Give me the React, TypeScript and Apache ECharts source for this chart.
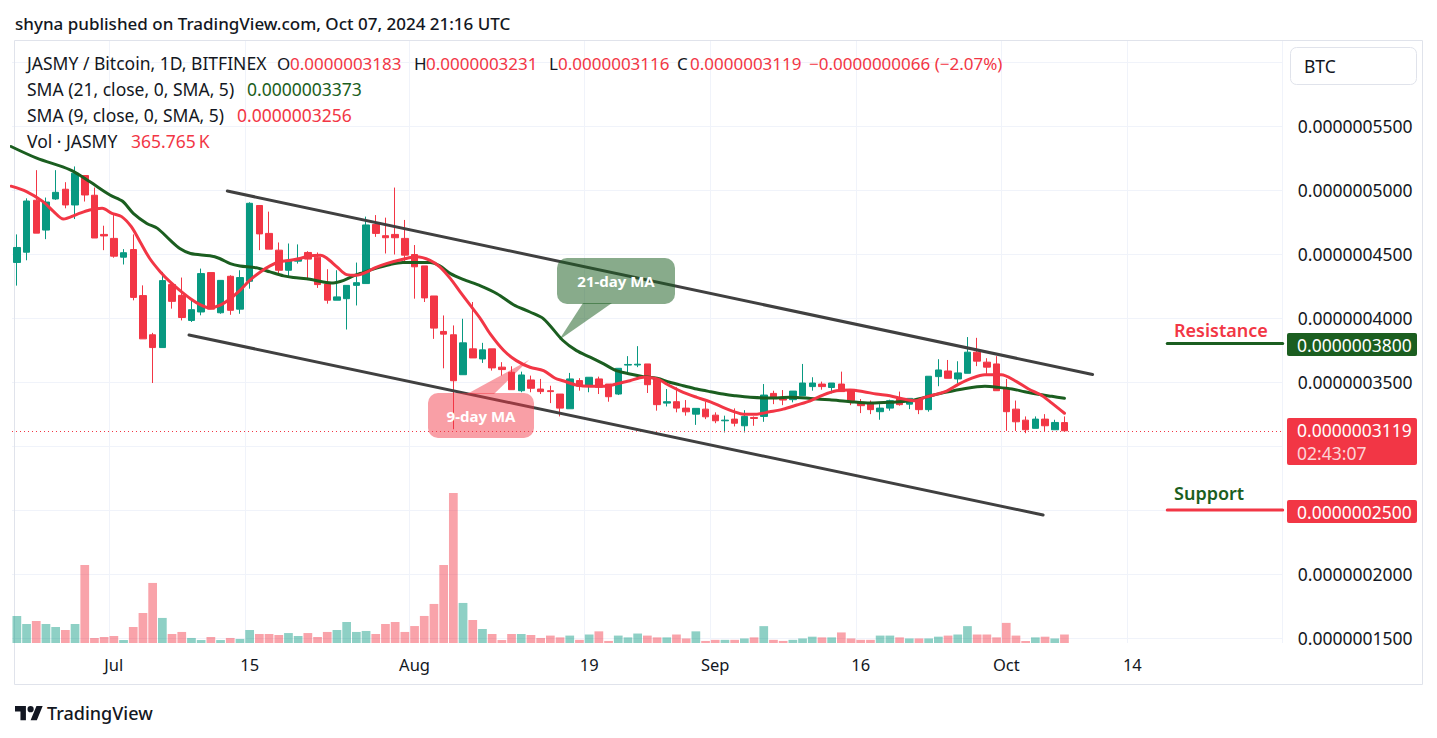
import React, { useEffect, useRef } from "react";
import * as echarts from "echarts";

// ---------- DATA (prices in 1e-10 BTC) ----------
const START_DATE = "2024-06-21";
const TOTAL_DAYS = 131; // visible time range incl. empty space on the right

// [open, close, low, high]
const OHLC: number[][] = [
  [4434, 4551, 4253, 4653], [4514, 4914, 4451, 4935], [4920, 4663, 4663, 5155], [4687, 4906, 4616, 4941],
  [4930, 4982, 4923, 5155], [5006, 4883, 4857, 5061], [4883, 5131, 4773, 5184], [5113, 4961, 4910, 5113],
  [4959, 4625, 4625, 5019], [4653, 4641, 4530, 4721], [4622, 4483, 4471, 4804], [4475, 4510, 4418, 4538],
  [4535, 4161, 4138, 4653], [4175, 3837, 3837, 4255], [3869, 3769, 3492, 3884], [3769, 4292, 3769, 4360],
  [4261, 4130, 4073, 4261], [4177, 4004, 3981, 4316], [3981, 4065, 3969, 4138], [4047, 4347, 4021, 4386],
  [4355, 4069, 4069, 4355], [4041, 4294, 4033, 4294], [4326, 4060, 4025, 4334], [4069, 4316, 4033, 4373],
  [4287, 4896, 4229, 4904], [4879, 4657, 4530, 4879], [4661, 4538, 4538, 4831], [4530, 4373, 4329, 4590],
  [4373, 4451, 4329, 4582], [4444, 4465, 4425, 4575], [4512, 4460, 4308, 4522], [4475, 4261, 4235, 4512],
  [4266, 4139, 4112, 4381], [4139, 4165, 4139, 4373], [4151, 4255, 3910, 4255], [4255, 4276, 4098, 4433],
  [4269, 4727, 4269, 4792], [4731, 4661, 4634, 4804], [4643, 4627, 4504, 4784], [4653, 4627, 4496, 5019],
  [4622, 4491, 4425, 4766], [4496, 4400, 4151, 4570], [4407, 4157, 4125, 4407], [4172, 3921, 3837, 4172],
  [3895, 3874, 3607, 4020], [3869, 3510, 3131, 3942], [3557, 3806, 3557, 3994], [3759, 3688, 3688, 4125],
  [3680, 3751, 3649, 3806], [3759, 3610, 3589, 3759], [3616, 3597, 3550, 3655], [3576, 3440, 3440, 3623],
  [3432, 3555, 3420, 3581], [3516, 3451, 3420, 3550], [3445, 3425, 3406, 3524], [3432, 3425, 3335, 3471],
  [3406, 3296, 3231, 3406], [3291, 3524, 3291, 3571], [3511, 3467, 3432, 3530], [3467, 3537, 3420, 3537],
  [3524, 3459, 3406, 3542], [3484, 3385, 3346, 3484], [3406, 3607, 3398, 3607], [3632, 3637, 3557, 3702],
  [3633, 3639, 3616, 3780], [3641, 3479, 3414, 3641], [3524, 3323, 3276, 3524], [3335, 3346, 3309, 3445],
  [3346, 3296, 3263, 3459], [3296, 3267, 3237, 3359], [3249, 3294, 3165, 3294], [3288, 3228, 3210, 3346],
  [3241, 3197, 3178, 3263], [3197, 3202, 3106, 3237], [3210, 3178, 3153, 3294], [3158, 3231, 3106, 3280],
  [3223, 3215, 3158, 3231], [3231, 3398, 3189, 3484], [3411, 3381, 3327, 3432], [3367, 3359, 3319, 3437],
  [3362, 3429, 3341, 3429], [3393, 3492, 3393, 3641], [3464, 3492, 3432, 3537], [3484, 3464, 3440, 3503],
  [3457, 3492, 3411, 3492], [3484, 3425, 3425, 3581], [3432, 3355, 3319, 3432], [3335, 3315, 3257, 3367],
  [3327, 3284, 3249, 3355], [3268, 3296, 3205, 3327], [3296, 3354, 3276, 3362], [3372, 3323, 3315, 3425],
  [3327, 3372, 3288, 3372], [3362, 3284, 3249, 3362], [3284, 3545, 3268, 3545], [3542, 3594, 3467, 3678],
  [3586, 3529, 3529, 3672], [3524, 3571, 3492, 3662], [3568, 3733, 3568, 3851], [3733, 3663, 3624, 3845],
  [3655, 3616, 3563, 3686], [3641, 3432, 3432, 3702], [3451, 3268, 3118, 3524], [3288, 3189, 3118, 3355],
  [3202, 3127, 3100, 3231], [3138, 3210, 3138, 3231], [3210, 3158, 3111, 3249], [3127, 3184, 3127, 3205],
  [3183, 3119, 3116, 3231],
];

// volume in thousands of JASMY
const VOLUME_K: number[] = [
  1165, 820, 948, 820, 689, 561, 820, 3362, 217, 259, 302, 128, 689, 1292, 2588, 1080,
  387, 476, 217, 128, 259, 128, 217, 174, 561, 387, 387, 344, 429, 302, 429, 259,
  476, 561, 905, 476, 519, 387, 820, 905, 476, 731, 1165, 1683, 3362, 6464, 1726, 990,
  604, 387, 128, 387, 387, 344, 217, 319, 242, 319, 136, 366, 502, 89, 319, 242,
  408, 319, 242, 242, 366, 196, 502, 89, 136, 136, 136, 196, 242, 727, 136, 89,
  136, 196, 272, 242, 242, 455, 196, 136, 136, 319, 319, 242, 196, 196, 196, 272,
  319, 366, 727, 366, 366, 242, 867, 319, 89, 242, 272, 196, 366,
];

// SMA lines: [day index, price]
const SMA21_POINTS: number[][] = [
  [-0.6, 5340], [2.05, 5249], [5.5, 5157], [7.5, 5066], [9.6, 4961], [10.9, 4912], [12.0, 4818], [13.4, 4739],
  [14.5, 4700], [15.8, 4608], [16.8, 4543], [17.9, 4504], [19.9, 4486], [20.9, 4465], [22.0, 4425], [23.0, 4407],
  [24.7, 4392], [26.1, 4360], [27.5, 4329], [28.5, 4316], [30.2, 4302], [31.6, 4282], [32.6, 4274], [33.7, 4294],
  [34.7, 4329], [35.7, 4355], [36.9, 4386], [38.5, 4418], [39.8, 4433], [42.6, 4433], [43.6, 4407], [44.7, 4347],
  [46.0, 4302], [47.8, 4251], [49.5, 4190], [51.2, 4104], [52.9, 4047], [54.3, 3994], [56.3, 3824], [57.7, 3745],
  [59.1, 3694], [60.5, 3641], [61.8, 3589], [63.2, 3563], [64.6, 3542], [66.0, 3529], [67.3, 3498], [68.7, 3471],
  [70.1, 3445], [71.5, 3424], [72.8, 3406], [74.0, 3393], [75.6, 3380], [77.6, 3375], [79.7, 3380], [81.8, 3372],
  [83.8, 3361], [85.9, 3346], [88.0, 3335], [90.0, 3341], [92.1, 3353], [93.6, 3380], [95.7, 3419], [97.8, 3450],
  [99.8, 3466], [101.2, 3458], [102.6, 3445], [103.9, 3424], [105.3, 3404], [106.7, 3388], [108, 3373],
];
const SMA9_POINTS: number[][] = [
  [-0.6, 5030], [1.0, 4988], [2.7, 4909], [3.8, 4831], [4.8, 4773], [6.2, 4810], [7.5, 4844], [8.8, 4857],
  [9.8, 4818], [10.8, 4792], [11.8, 4713], [12.7, 4596], [13.7, 4465], [14.8, 4360], [15.8, 4282], [16.8, 4216],
  [17.9, 4151], [18.9, 4104], [19.9, 4078], [20.9, 4098], [22.0, 4151], [23.0, 4216], [24.0, 4294], [25.1, 4360],
  [26.1, 4407], [27.1, 4439], [28.2, 4451], [29.2, 4465], [30.2, 4486], [31.3, 4491], [31.9, 4470], [33.0, 4400],
  [34.0, 4339], [35.0, 4334], [36.1, 4360], [36.9, 4392], [38.1, 4425], [39.8, 4459], [41.2, 4478], [42.6, 4451],
  [43.6, 4400], [44.7, 4308], [45.7, 4204], [46.7, 4104], [47.8, 3994], [48.8, 3876], [50.2, 3746], [51.5, 3667],
  [52.9, 3615], [54.3, 3589], [55.5, 3529], [56.3, 3510], [57.7, 3476], [59.1, 3466], [60.5, 3466], [61.8, 3484],
  [63.2, 3510], [64.6, 3537], [66.0, 3524], [67.3, 3471], [68.7, 3419], [70.1, 3380], [71.5, 3345], [72.8, 3302],
  [74.0, 3267], [74.9, 3249], [76.3, 3249], [77.6, 3267], [79.0, 3288], [80.4, 3320], [81.8, 3353], [83.1, 3398],
  [84.5, 3432], [85.9, 3437], [87.3, 3424], [88.6, 3406], [90.0, 3393], [91.4, 3367], [92.6, 3353], [93.6, 3380],
  [95.7, 3424], [97.1, 3484], [98.4, 3529], [99.8, 3557], [101.5, 3557], [102.9, 3510], [104.3, 3445], [105.7, 3393],
  [106.7, 3335], [108, 3256],
];

const CHANNEL_UPPER: number[][] = [[21.7, 4992], [110.9, 3559]];
const CHANNEL_LOWER: number[][] = [[17.75, 3867], [105.8, 2461]];
const RESISTANCE = 3800;
const SUPPORT = 2500;
const LEVEL_START = 118.6;
const LAST_PRICE = 3119;

const TICK_LABELS: Record<string, string> = {
  "2024-07-01": "Jul", "2024-07-15": "15", "2024-08-01": "Aug", "2024-08-19": "19",
  "2024-09-01": "Sep", "2024-09-16": "16", "2024-10-01": "Oct", "2024-10-14": "14",
};
const Y_MIN = 1500;
const Y_MAX = 6000;
const Y_STEP = 500;
// axis labels hidden behind the price boxes / BTC button
const Y_COVERED = [6000, 3000, 2500];

const HEADER_TITLE = "shyna published on TradingView.com, Oct 07, 2024 21:16 UTC";
const SYMBOL_LINE = "JASMY / Bitcoin, 1D, BITFINEX";
const OHLC_TEXT = ["0.0000003183", "0.0000003231", "0.0000003116", "0.0000003119"];
const CHANGE_TEXT = "\u22120.0000000066 (\u22122.07%)";
const SMA21_LABEL = "SMA (21, close, 0, SMA, 5)";
const SMA9_LABEL = "SMA (9, close, 0, SMA, 5)";
const SMA21_VALUE = "0.0000003373";
const SMA9_VALUE = "0.0000003256";
const VOL_LABEL = "Vol \u00b7 JASMY";
const VOL_VALUE = "365.765\u2009K";
const COUNTDOWN = "02:43:07";

// ---------- STYLE ----------
const UP = "#089981";
const DOWN = "#f23645";
const MA21 = "#1b5e20";
const TEXT = "#131722";
const GRID = "#f0f3fa";
const FONT = '"Noto Sans", "DejaVu Sans", sans-serif';
const LEG = 17.5;
const LEG1 = 17;
const AXF = 17.5;

const DAY_MS = 86400000;
const DATES: string[] = (() => {
  const s = Date.parse(START_DATE + "T00:00:00Z");
  const out: string[] = [];
  for (let i = 0; i < TOTAL_DAYS; i++) out.push(new Date(s + i * DAY_MS).toISOString().slice(0, 10));
  return out;
})();

const fmt = (v: number) => (v / 1e10).toFixed(10);

const GRID_LEFT = 12;
const GRID_W = 1270.7;
const PRICE_TOP = 62;
const PRICE_BOTTOM = 638;
const VOL_TOP = 41;
const VOL_BOTTOM = 643;
const VOL_MAX_PX = 150;

function txt(text: string, x: number, y: number, fill: string, size: number, weight = "normal", align = "left") {
  return {
    type: "text",
    x,
    y,
    z: 100,
    style: { text, fill, font: `${weight} ${size}px ${FONT}`, textAlign: align, textVerticalAlign: "middle" },
  };
}

export default function App() {
  const ref = useRef<HTMLDivElement>(null);

  useEffect(() => {
    if (!ref.current) return;
    echarts.graphic.registerShape(
      "tvlogo",
      echarts.graphic.extendPath("M14 22H7V11H0V4h14v18zM28 22h-8l7.5-18h8L28 22zM24 8a4 4 0 1 1-8 0a4 4 0 1 1 8 0z", {})
    );
    const chart = echarts.init(ref.current, null, { renderer: "svg" });

    const maxVol = Math.max(...VOLUME_K);
    const volAxisMax = (maxVol * (VOL_BOTTOM - VOL_TOP)) / VOL_MAX_PX;

    const volData = VOLUME_K.map((v, i) => ({
      value: v,
      itemStyle: { color: OHLC[i][1] >= OHLC[i][0] ? "rgba(8,153,129,0.46)" : "rgba(242,54,69,0.46)" },
    }));

    const lineSeries = (data: number[][], color: string, width: number, smooth: number | boolean, z: number) => ({
      type: "line",
      xAxisIndex: 1,
      yAxisIndex: 0,
      data,
      smooth,
      showSymbol: false,
      symbol: "none",
      silent: true,
      z,
      lineStyle: { color, width, cap: "round" },
    });

    const isTick = (i: number) => TICK_LABELS[DATES[i]] !== undefined;

    const graphics: any[] = [
      // frame
      { type: "rect", z: 1, shape: { x: 14.5, y: 40.5, width: 1408, height: 644 }, style: { fill: "none", stroke: "#e0e3eb", lineWidth: 1 } },
      txt(HEADER_TITLE, 15, 23, TEXT, 17, "500"),
      // legend line 1
      txt(SYMBOL_LINE, 27, 63, TEXT, LEG),
      txt("O", 277, 63, TEXT, LEG1), txt(OHLC_TEXT[0], 290, 63, DOWN, LEG1),
      txt("H", 414, 63, TEXT, LEG1), txt(OHLC_TEXT[1], 426, 63, DOWN, LEG1),
      txt("L", 549, 63, TEXT, LEG1), txt(OHLC_TEXT[2], 558, 63, DOWN, LEG1),
      txt("C", 677, 63, TEXT, LEG1), txt(OHLC_TEXT[3], 690, 63, DOWN, LEG1),
      txt(CHANGE_TEXT, 809, 63, DOWN, LEG1),
      txt(SMA21_LABEL, 27, 89, TEXT, LEG), txt(SMA21_VALUE, 247, 89, MA21, LEG),
      txt(SMA9_LABEL, 27, 115, TEXT, LEG), txt(SMA9_VALUE, 237, 115, DOWN, LEG),
      txt(VOL_LABEL, 27, 141, TEXT, LEG), txt(VOL_VALUE, 131, 141, DOWN, LEG),
      // BTC button
      { type: "rect", z: 100, shape: { x: 1290.5, y: 47.5, width: 126, height: 37, r: 6 }, style: { fill: "#fff", stroke: "#e0e3eb", lineWidth: 1 } },
      txt("BTC", 1304, 66, TEXT, AXF),
      // price boxes
      { type: "rect", z: 100, shape: { x: 1287, y: 333, width: 130, height: 23, r: 2 }, style: { fill: MA21 } },
      txt(fmt(RESISTANCE), 1297, 344.5, "#ffffff", AXF),
      { type: "rect", z: 100, shape: { x: 1287, y: 418, width: 130, height: 47, r: 2 }, style: { fill: DOWN } },
      txt(fmt(LAST_PRICE), 1297, 430, "#ffffff", AXF),
      txt(COUNTDOWN, 1297, 453, "rgba(255,255,255,0.8)", AXF),
      { type: "rect", z: 100, shape: { x: 1287, y: 500, width: 130, height: 23, r: 2 }, style: { fill: DOWN } },
      txt(fmt(SUPPORT), 1297, 511.5, "#ffffff", AXF),
      // level texts
      txt("Resistance", 1174, 330, DOWN, 18, "600"),
      txt("Support", 1174, 493, MA21, 18, "600"),
      // 21-day MA callout
      { type: "polygon", z: 90, shape: { points: [[583, 303], [612, 303], [559, 340]] }, style: { fill: "rgba(27,94,32,0.52)" } },
      { type: "rect", z: 90, shape: { x: 557, y: 258, width: 118, height: 46, r: 10 }, style: { fill: "rgba(27,94,32,0.52)" } },
      txt("21-day MA", 616, 281, "#ffffff", 15, "bold", "center"),
      // 9-day MA callout
      { type: "polygon", z: 90, shape: { points: [[467, 394], [494, 394], [529, 360]] }, style: { fill: "rgba(242,54,69,0.48)" } },
      { type: "rect", z: 90, shape: { x: 428, y: 393, width: 106, height: 45, r: 10 }, style: { fill: "rgba(242,54,69,0.48)" } },
      txt("9-day MA", 481, 415.5, "#ffffff", 15, "bold", "center"),
      // TradingView logo
      { type: "tvlogo", z: 100, x: 15, y: 703, scaleX: 0.78, scaleY: 0.78, style: { fill: TEXT } },
      txt("TradingView", 47, 713, TEXT, 18, "500"),
    ];

    const option: any = {
      animation: false,
      backgroundColor: "#ffffff",
      grid: [
        { left: GRID_LEFT, top: PRICE_TOP, width: GRID_W, height: PRICE_BOTTOM - PRICE_TOP },
        { left: GRID_LEFT, top: VOL_TOP, width: GRID_W, height: VOL_BOTTOM - VOL_TOP },
      ],
      xAxis: [
        {
          type: "category", gridIndex: 0, data: DATES, boundaryGap: true,
          axisLine: { show: false }, axisTick: { show: false }, axisLabel: { show: false }, splitLine: { show: false },
        },
        { type: "value", gridIndex: 0, min: -0.5, max: TOTAL_DAYS - 0.5, show: false, splitLine: { show: false } },
        {
          type: "category", gridIndex: 1, data: DATES, boundaryGap: true,
          axisLine: { show: false }, axisTick: { show: false },
          axisLabel: {
            interval: (i: number) => isTick(i),
            formatter: (v: string) => TICK_LABELS[v] || "",
            color: TEXT, fontSize: 16.5, fontFamily: FONT, margin: 13,
          },
          splitLine: { show: true, interval: (i: number) => isTick(i), lineStyle: { color: GRID, width: 1 } },
        },
      ],
      yAxis: [
        {
          type: "value", gridIndex: 0, position: "right", min: Y_MIN, max: Y_MAX, interval: Y_STEP,
          axisLine: { show: false }, axisTick: { show: false },
          axisLabel: {
            formatter: (v: number) => (Y_COVERED.indexOf(Math.round(v)) >= 0 ? "" : fmt(v)),
            color: TEXT, fontSize: AXF, fontFamily: FONT, margin: 15, align: "left",
          },
          splitLine: { show: true, lineStyle: { color: GRID, width: 1 } },
        },
        { type: "value", gridIndex: 1, min: 0, max: volAxisMax, show: false, splitLine: { show: false } },
      ],
      series: [
        {
          type: "bar", xAxisIndex: 2, yAxisIndex: 1, data: volData, barWidth: "90%", z: 1, silent: true,
        },
        {
          type: "candlestick", xAxisIndex: 0, yAxisIndex: 0, data: OHLC.map((d) => [d[0], d[1], d[2], d[3]]),
          barWidth: 7, z: 3, silent: true,
          itemStyle: { color: UP, color0: DOWN, borderColor: UP, borderColor0: DOWN, borderWidth: 1 },
          markLine: {
            silent: true, symbol: ["none", "none"], label: { show: false },
            lineStyle: { color: DOWN, type: [1, 3], width: 1 },
            data: [{ yAxis: LAST_PRICE }],
          },
        },
        lineSeries(SMA21_POINTS, MA21, 3, 0.3, 5),
        lineSeries(SMA9_POINTS, DOWN, 3, 0.3, 6),
        lineSeries(CHANNEL_UPPER, "#404040", 3, false, 7),
        lineSeries(CHANNEL_LOWER, "#404040", 3, false, 7),
        lineSeries([[LEVEL_START, RESISTANCE], [TOTAL_DAYS - 0.5, RESISTANCE]], MA21, 3, false, 7),
        lineSeries([[LEVEL_START, SUPPORT], [TOTAL_DAYS - 0.5, SUPPORT]], DOWN, 3, false, 7),
      ],
      graphic: graphics,
    };

    chart.setOption(option);
    return () => chart.dispose();
  }, []);

  return (
    <div
      ref={ref}
      style={{ position: "fixed", left: 0, top: 0, width: 1437, height: 738, background: "#fff" }}
    />
  );
}
